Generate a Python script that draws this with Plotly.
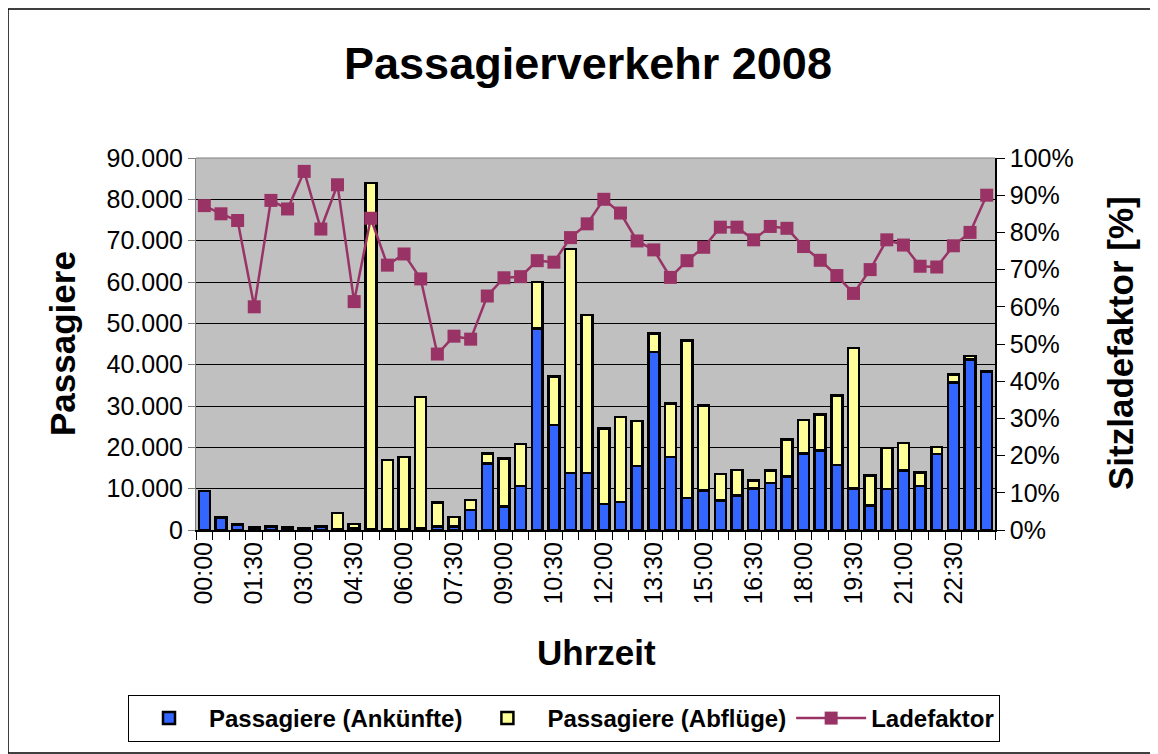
import plotly.graph_objects as go

# ---- data ----
times = [f"{h:02d}:{m:02d}" for h in range(24) for m in (0, 30)]
arrivals = [9400, 3000, 1200, 600, 700, 500, 300, 700, 100, 500,
            100, 200, 300, 500, 800, 800, 4900, 16100, 5700, 10600,
            48800, 25400, 13800, 13800, 6300, 6800, 15500, 43100, 17700, 7800,
            9600, 7100, 8300, 10100, 11400, 13000, 18500, 19200, 15700, 10100,
            5900, 9900, 14400, 10600, 18400, 35700, 41200, 38300]
departures = [0, 200, 300, 100, 100, 100, 100, 100, 4000, 1000,
              83900, 16700, 17400, 31700, 5800, 2400, 2300, 2400, 11600, 10200,
              11200, 11700, 54200, 38200, 18300, 20600, 10900, 4400, 12900, 38000,
              20500, 6400, 6200, 1900, 3000, 8900, 8100, 8700, 16900, 33900,
              7300, 10000, 6600, 3300, 1700, 1900, 900, 0]
load_factor = [87.2, 85.0, 83.2, 60.0, 88.6, 86.3, 96.4, 80.9, 92.8, 61.4,
               83.8, 71.2, 74.2, 67.5, 47.3, 52.1, 51.3, 62.9, 67.8, 68.1,
               72.4, 72.0, 78.6, 82.3, 88.9, 85.2, 77.7, 75.3, 67.9, 72.4,
               76.0, 81.4, 81.4, 78.0, 81.6, 81.1, 76.2, 72.5, 68.4, 63.6,
               70.0, 78.0, 76.6, 70.9, 70.7, 76.4, 80.0, 90.0]
label_step = 3

idx = list(range(len(times)))
FONT = "Liberation Sans, Arial, sans-serif"

# page body margin offset (default html body margin)
OFF = 8
W, H = 1158 - OFF, 754 - OFF
# plot area in page pixels
L, R, T, B = 196, 995, 158, 530
def px(x):
    return (x - L) / (R - L)
def py(y):
    return (B - y) / (B - T)

fig = go.Figure()
fig.add_trace(go.Bar(x=idx, y=arrivals, name="<b>Passagiere (Ankünfte)</b>",
                     marker=dict(color="#3366FF", line=dict(color="black", width=2.5))))
fig.add_trace(go.Bar(x=idx, y=departures, name="<b>Passagiere (Abflüge)</b>",
                     marker=dict(color="#FFFF99", line=dict(color="black", width=2.5))))
fig.add_trace(go.Scatter(x=idx, y=[v / 100 for v in load_factor], name="<b>Ladefaktor</b>",
                         yaxis="y2", mode="lines+markers",
                         line=dict(color="#993366", width=2.5),
                         marker=dict(symbol="square", size=13, color="#993366")))

fig.update_layout(
    width=W, height=H,
    margin=dict(l=L - OFF, r=W - (R - OFF), t=T - OFF, b=H - (B - OFF), pad=0),
    paper_bgcolor="white", plot_bgcolor="#C0C0C0",
    separators=",.",
    barmode="stack", bargap=0.34,
    font=dict(family=FONT, size=25, color="black"),
    title=dict(text="<b>Passagierverkehr 2008</b>", x=(588 - OFF) / W, xanchor="center",
               y=1 - (63 - OFF) / H, yanchor="middle",
               font=dict(family=FONT, size=45, color="black")),
    xaxis=dict(range=[-0.5, len(times) - 0.5], tickmode="array",
               tickvals=idx[::label_step], ticktext=times[::label_step],
               tickangle=-90, ticks="", showgrid=False, zeroline=False,
               showline=True, linecolor="black", linewidth=2,
               tickfont=dict(size=25),
               minor=dict(tickmode="linear", tick0=-0.5, dtick=1, ticks="outside",
                          ticklen=8, tickcolor="black", tickwidth=1, showgrid=False)),
    yaxis=dict(range=[0, 90000], dtick=10000, tickformat=",d",
               showgrid=True, gridcolor="black", gridwidth=1, zeroline=False,
               showline=True, linecolor="#808080", linewidth=1,
               ticks="outside", ticklen=7, tickcolor="#808080",
               tickfont=dict(size=25)),
    yaxis2=dict(range=[0, 1], dtick=0.1, tickformat=".0%", overlaying="y", side="right",
                showgrid=False, zeroline=False, showline=True, linecolor="black",
                linewidth=1.5, ticks="outside", ticklen=8, tickcolor="black",
                tickfont=dict(size=25)),
    legend=dict(orientation="h", x=px(128), xanchor="left", y=py(695), yanchor="top",
                bgcolor="white", bordercolor="black", borderwidth=1, traceorder="normal",
                itemwidth=70, tracegroupgap=0,
                font=dict(family=FONT, size=24, color="black")),
    showlegend=True,
)

fig.add_annotation(text="<b>Passagiere</b>", x=px(62), y=py(344), xref="paper", yref="paper",
                   xanchor="center", yanchor="middle",
                   textangle=-90, showarrow=False, font=dict(family=FONT, size=35, color="black"))
fig.add_annotation(text="<b>Sitzladefaktor [%]</b>", x=px(1120), y=py(343), xref="paper", yref="paper",
                   xanchor="center", yanchor="middle",
                   textangle=-90, showarrow=False, font=dict(family=FONT, size=35, color="black"))
fig.add_annotation(text="<b>Uhrzeit</b>", x=px(596), y=py(652), xref="paper", yref="paper",
                   xanchor="center", yanchor="middle",
                   showarrow=False, font=dict(family=FONT, size=35, color="black"))

# plot-area frame (top edge gray)
fig.add_shape(type="line", xref="paper", yref="paper", x0=0, x1=1, y0=1, y1=1,
              line=dict(color="#808080", width=1))
# outer chart border
fig.add_shape(type="rect", xref="paper", yref="paper", x0=px(8), x1=px(1157), y0=py(9), y1=py(753),
              line=dict(color="black", width=1.5))

fig.write_html("out.html")
